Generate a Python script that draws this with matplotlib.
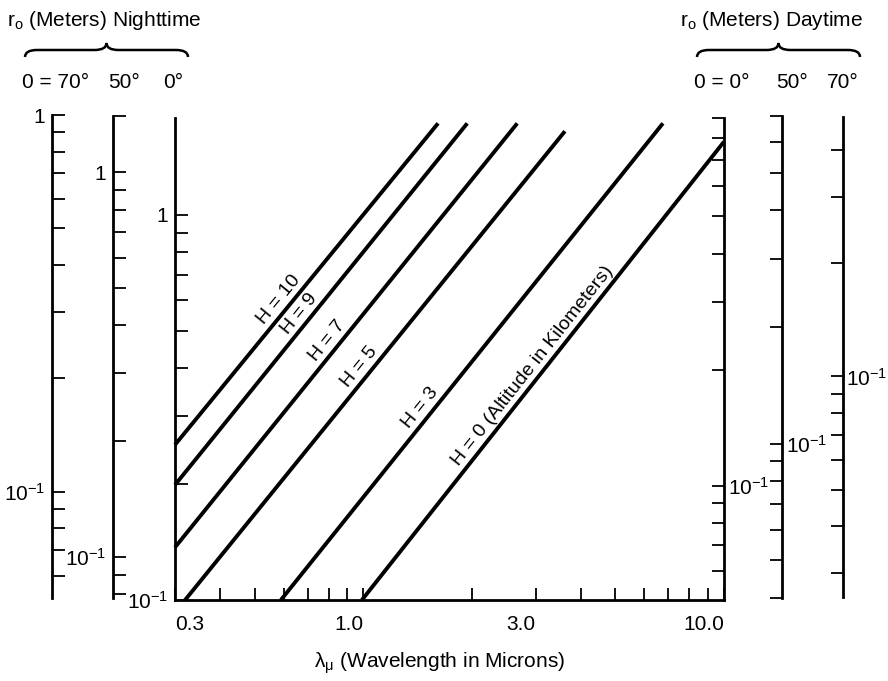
import numpy as np
import matplotlib
matplotlib.use("Agg")
import matplotlib.pyplot as plt
from matplotlib.path import Path
from matplotlib.patches import PathPatch
from matplotlib.ticker import NullLocator, NullFormatter
from matplotlib.transforms import Affine2D

plt.rcParams['font.family'] = ['Liberation Sans', 'DejaVu Sans']
plt.rcParams['mathtext.fontset'] = 'custom'
plt.rcParams['mathtext.rm'] = 'Liberation Sans'
plt.rcParams['mathtext.it'] = 'Liberation Sans:italic'
plt.rcParams['mathtext.default'] = 'regular'

# ---- data (r0 in the 0 deg nighttime scale) ---- #
altitudes = [10, 9, 7, 5, 3, 0]
lam_start = [0.30, 0.30, 0.30, 0.32, 0.59, 0.99]
r0_start = [0.253, 0.199, 0.137, 0.10, 0.10, 0.10]
lam_end = [1.61, 1.94, 2.67, 3.62, 6.77, 10.0]
r0_end = [1.73, 1.73, 1.73, 1.65, 1.73, 1.55]
label_lam = [0.617, 0.70, 0.839, 1.03, 1.52, 3.11]

x_major = [0.3, 1.0, 3.0, 10.0]
x_major_labels = ["0.3", "1.0", "3.0", "10.0"]
x_minor = [0.4, 0.5, 0.6, 0.7, 0.8, 0.9, 2, 4, 5, 6, 7, 8, 9]

night_names = ["0 = 70°", "50°", "0°"]
day_names = ["0 = 0°", "50°", "70°"]
night_lims = [(0.0523, 1.0), (0.0783, 1.4), (0.1, 1.786)]
day_lims = [(0.0505, 0.9), (0.04, 0.7), (0.0259, 0.49)]
night_caps = [[], [1.4], []]
day_caps = [[], [], []]

TICK_CANDIDATES = [k * 10.0 ** e for e in (-2, -1, 0) for k in range(1, 10)]

W, H = 888, 681
fig = plt.figure(figsize=(W / 100, H / 100), dpi=100)


def frac_box(x0, top, x1, bot):
    return [x0 / W, 1 - bot / H, (x1 - x0) / W, (bot - top) / H]


def style_scale(ax, lims, caps, side, pad=5):
    lo, hi = lims
    ax.set_yscale('log')
    ax.set_ylim(lo, hi)
    for s in ax.spines.values():
        s.set_visible(False)
    ax.spines[side].set_visible(True)
    ax.spines[side].set_linewidth(2.0)
    ax.patch.set_visible(False)
    ticks = [v for v in TICK_CANDIDATES if lo * 0.999 <= v <= hi * 1.001] + caps
    labels = []
    for v in ticks:
        if abs(v - 1.0) < 1e-9:
            labels.append("1")
        elif abs(v - 0.1) < 1e-9:
            labels.append(r"$10^{-1}$")
        else:
            labels.append("")
    ax.set_yticks(ticks, labels=labels)
    ax.yaxis.set_minor_locator(NullLocator())
    ax.yaxis.set_minor_formatter(NullFormatter())
    ax.yaxis.set_ticks_position(side)
    ax.tick_params(axis='y', which='both', direction='in', length=9,
                   width=1.3, labelsize=15, pad=pad)


# --- main plot (0 deg nighttime scale on its left spine) --- #
ax = fig.add_axes(frac_box(175, 118, 724, 600))
ax.set_xscale('log')
ax.set_xlim(0.3, 10.0)
style_scale(ax, night_lims[2], night_caps[2], 'left')
ax.spines['bottom'].set_visible(True)
ax.spines['bottom'].set_linewidth(2.0)
ax.set_xticks(x_major, labels=x_major_labels)
ax.set_xticks(x_minor, minor=True)
ax.xaxis.set_minor_formatter(NullFormatter())
ax.tick_params(axis='x', which='both', direction='in', length=9, width=1.3,
               top=False, labelsize=15, pad=11)
for i, lab in enumerate(ax.get_xticklabels()):
    lab.set_ha('left' if i == 0 else 'right')

# right spine = 0 deg daytime scale
ax_d0 = ax.twinx()
style_scale(ax_d0, day_lims[0], day_caps[0], 'right', pad=3)

# other scales
ax_n70 = fig.add_axes(frac_box(52, 115, 52.01, 598))
style_scale(ax_n70, night_lims[0], night_caps[0], 'left')
ax_n50 = fig.add_axes(frac_box(113, 116, 113.01, 598))
style_scale(ax_n50, night_lims[1], night_caps[1], 'left')
ax_d50 = fig.add_axes(frac_box(782, 116, 782.01, 598))
style_scale(ax_d50, day_lims[1], day_caps[1], 'right', pad=3)
ax_d70 = fig.add_axes(frac_box(843, 117, 843.01, 597))
style_scale(ax_d70, day_lims[2], day_caps[2], 'right', pad=2)
for a in (ax_n70, ax_n50, ax_d50, ax_d70):
    a.set_xticks([])

# --- altitude lines --- #
for h, l0, ra, l1, rb, ll in zip(altitudes, lam_start, r0_start, lam_end, r0_end, label_lam):
    ax.plot([l0, l1], [ra, rb], color='black', lw=2.8, solid_capstyle='butt', clip_on=False)
    frac = np.log(ll / l0) / np.log(l1 / l0)
    rl = ra * (rb / ra) ** frac
    p0 = ax.transData.transform((l0, ra))
    p1 = ax.transData.transform((l1, rb))
    ang = np.degrees(np.arctan2(p1[1] - p0[1], p1[0] - p0[0]))
    txt = f"H = {h}" + (" (Altitude in Kilometers)" if h == 0 else "")
    gap = 2.0
    ax.annotate(txt, (ll, rl),
                xytext=(-gap * np.sin(np.radians(ang)), gap * np.cos(np.radians(ang))),
                textcoords='offset points', rotation=ang, rotation_mode='anchor',
                ha='center', va='bottom', fontsize=14)

# --- headers and braces --- #
px = Affine2D().scale(1 / W, -1 / H).translate(0, 1) + fig.transFigure


def brace(x0, x1, y_end=57, y_mid=50, y_peak=43, q=12):
    xm = (x0 + x1) / 2
    verts = [(x0, y_end), (x0, y_mid), (x0 + q, y_mid),
             (xm - q, y_mid), (xm, y_mid), (xm, y_peak),
             (xm, y_mid), (xm + q, y_mid),
             (x1 - q, y_mid), (x1, y_mid), (x1, y_end)]
    codes = [Path.MOVETO, Path.CURVE3, Path.CURVE3,
             Path.LINETO, Path.CURVE3, Path.CURVE3,
             Path.CURVE3, Path.CURVE3,
             Path.LINETO, Path.CURVE3, Path.CURVE3]
    fig.patches.append(PathPatch(Path(verts, codes), fill=False, lw=1.8,
                                 edgecolor='black', transform=px))


brace(25, 188)
brace(697, 860)

fig.text(7 / W, 1 - 20 / H, r"r$_{o}$ (Meters) Nighttime", fontsize=15,
         ha='left', va='center')
fig.text(863 / W, 1 - 20 / H, r"r$_{o}$ (Meters) Daytime", fontsize=15,
         ha='right', va='center')
for name, xc in zip(night_names, [56, 124, 173]):
    fig.text(xc / W, 1 - 82 / H, name, fontsize=15, ha='center', va='center')
for name, xc in zip(day_names, [722, 792, 843]):
    fig.text(xc / W, 1 - 82 / H, name, fontsize=15, ha='center', va='center')

fig.text(440 / W, 1 - 663 / H, r"λ$_{μ}$ (Wavelength in Microns)", fontsize=15,
         ha='center', va='center')

fig.savefig("out.png", dpi=100)
